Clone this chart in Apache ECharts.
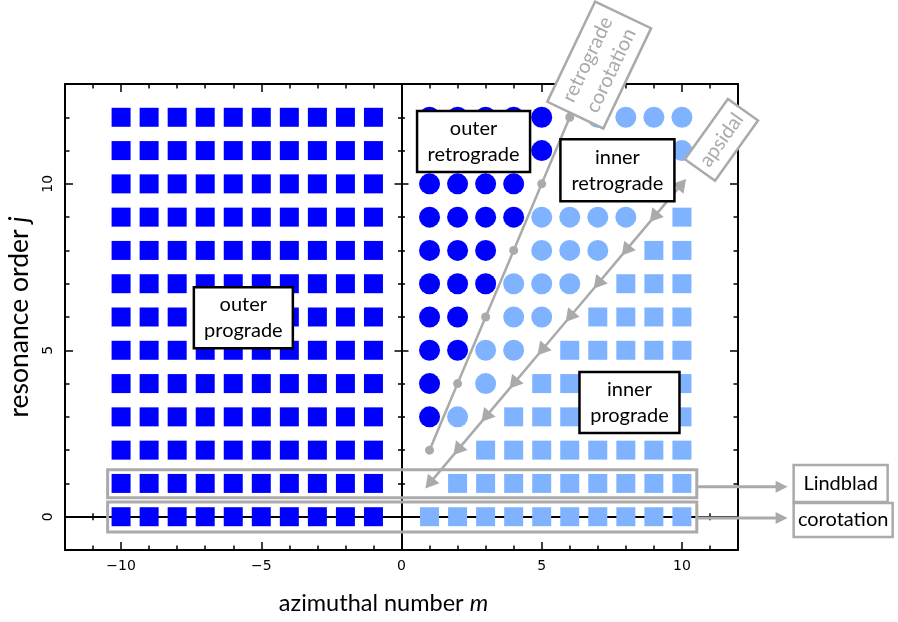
<!DOCTYPE html>
<html><head><meta charset="utf-8">
<script src="https://cdn.jsdelivr.net/npm/echarts@6/dist/echarts.min.js"></script>
<style>html,body{margin:0;padding:0;background:#fff}#c{width:898px;height:622px}</style>
</head><body><div id="c"></div>
<script>
// ---------------- data ----------------
const mNegative = [-10, -9, -8, -7, -6, -5, -4, -3, -2, -1];
const jOrders = [0, 1, 2, 3, 4, 5, 6, 7, 8, 9, 10, 11, 12];
// columns m > 0 : [m, [j values]]
const outerRetrogradeCols = [
  [1, [3, 4, 5, 6, 7, 8, 9, 10, 11, 12]],
  [2, [5, 6, 7, 8, 9, 10, 11, 12]],
  [3, [7, 8, 9, 10, 11, 12]],
  [4, [9, 10, 11, 12]],
  [5, [11, 12]]
];
const innerRetrogradeCols = [
  [2, [3]],
  [3, [4, 5]],
  [4, [5, 6, 7]],
  [5, [6, 7, 8, 9]],
  [6, [7, 8, 9, 10, 11]],
  [7, [8, 9, 10, 11, 12]],
  [8, [9, 10, 11, 12]],
  [9, [10, 11, 12]],
  [10, [11, 12]]
];
const innerProgradeCols = [
  [1, [0]],
  [2, [0, 1]],
  [3, [0, 1, 2]],
  [4, [0, 1, 2, 3]],
  [5, [0, 1, 2, 3, 4]],
  [6, [0, 1, 2, 3, 4, 5]],
  [7, [0, 1, 2, 3, 4, 5, 6]],
  [8, [0, 1, 2, 3, 4, 5, 6, 7]],
  [9, [0, 1, 2, 3, 4, 5, 6, 7, 8]],
  [10, [0, 1, 2, 3, 4, 5, 6, 7, 8, 9]]
];
const retrogradeCorotation = [[1, 2], [2, 4], [3, 6], [4, 8], [5, 10], [6, 12]];
const apsidal = [[1, 1], [2, 2], [3, 3], [4, 4], [5, 5], [6, 6], [7, 7], [8, 8], [9, 9], [10, 10]];
const xTickLabels = [-10, -5, 0, 5, 10];
const yTickLabels = [0, 5, 10];
const rowLindblad = 1;
const rowCorotation = 0;

// ---------------- styles ----------------
const DARK = '#0000ff';
const LIGHT = '#80b3ff';
const GREY = '#aaaaaa';
const TITLE_FONT = 'Lato';
const TICK_FONT = 'DejaVu Sans';

const pairs = cols => cols.flatMap(([m, js]) => js.map(j => [m, j]));
const outerPrograde = mNegative.flatMap(m => jOrders.map(j => [m, j]));
const tickFmt = v => (v < 0 ? '\u2212' + Math.abs(v) : String(v));

function mkAxis(dim, o) {
  const isX = dim === 'x';
  const a = {
    type: 'value', min: isX ? -12 : -1, max: isX ? 12 : 13, interval: 1,
    position: o.position,
    axisLine: { show: !!o.line, onZero: !!o.onZero, lineStyle: { color: '#000', width: 2 } },
    axisTick: { show: true, inside: o.inside, length: o.length, lineStyle: { color: '#000', width: 1.5 } },
    axisLabel: { show: false },
    splitLine: { show: false }
  };
  if (o.onZero) a.axisLine.onZeroAxisIndex = 0;
  if (o.custom) a.axisTick.customValues = o.custom;
  if (o.labels) {
    a.axisLabel = {
      show: true, customValues: o.labels, formatter: tickFmt,
      fontFamily: TICK_FONT, fontSize: 14, color: '#000',
      margin: o.margin, rotate: o.rotate || 0
    };
  }
  if (o.name) {
    a.name = o.name;
    a.nameLocation = 'middle';
    a.nameGap = o.nameGap;
    a.nameTextStyle = {
      fontFamily: TITLE_FONT, fontSize: o.nameSize, color: '#000', padding: o.namePad || 0,
      rich: { i: { fontFamily: TITLE_FONT, fontSize: o.nameSize, fontStyle: 'italic', color: '#000' } }
    };
  }
  return a;
}

const xAxes = [
  mkAxis('x', { position: 'bottom', line: true, inside: true, length: 4.5 }),
  mkAxis('x', { position: 'bottom', inside: true, length: 8, custom: xTickLabels, labels: xTickLabels, margin: 9,
                name: 'azimuthal number {i|m}', nameGap: 41, nameSize: 23.5, namePad: [0, 36, 0, 0] }),
  mkAxis('x', { position: 'top', line: true, inside: true, length: 4.5 }),
  mkAxis('x', { position: 'top', inside: true, length: 8, custom: xTickLabels }),
  mkAxis('x', { position: 'bottom', line: true, onZero: true, inside: true, length: 3.5 }),
  mkAxis('x', { position: 'bottom', onZero: true, inside: false, length: 3.5 }),
  mkAxis('x', { position: 'bottom', onZero: true, inside: true, length: 7, custom: xTickLabels }),
  mkAxis('x', { position: 'bottom', onZero: true, inside: false, length: 7, custom: xTickLabels })
];
const yAxes = [
  mkAxis('y', { position: 'left', line: true, inside: true, length: 4.5 }),
  mkAxis('y', { position: 'left', inside: true, length: 8, custom: yTickLabels, labels: yTickLabels, margin: 10, rotate: 90,
                name: 'resonance order {i|j}', nameGap: 27, nameSize: 26.5 }),
  mkAxis('y', { position: 'right', line: true, inside: true, length: 4.5 }),
  mkAxis('y', { position: 'right', inside: true, length: 8, custom: yTickLabels }),
  mkAxis('y', { position: 'left', line: true, onZero: true, inside: true, length: 3.5 }),
  mkAxis('y', { position: 'left', onZero: true, inside: false, length: 3.5 }),
  mkAxis('y', { position: 'left', onZero: true, inside: true, length: 7, custom: yTickLabels }),
  mkAxis('y', { position: 'left', onZero: true, inside: false, length: 7, custom: yTickLabels })
];

const option = {
  animation: false,
  backgroundColor: '#fff',
  grid: { left: 65, right: 160, top: 84, bottom: 72, containLabel: false, outerBoundsMode: 'none' },
  xAxis: xAxes,
  yAxis: yAxes,
  series: [
    {
      type: 'scatter', name: 'outer prograde', symbol: 'rect', symbolSize: 19,
      itemStyle: { color: DARK, opacity: 1 }, data: outerPrograde,
      markArea: {
        silent: true,
        itemStyle: { color: 'rgba(0,0,0,0)', borderColor: GREY, borderWidth: 3 },
        label: { show: false },
        data: [
          [{ coord: [-10.48, rowLindblad - 0.43] }, { coord: [10.53, rowLindblad + 0.41] }],
          [{ coord: [-10.48, rowCorotation - 0.46] }, { coord: [10.53, rowCorotation + 0.44] }]
        ]
      }
    },
    { type: 'scatter', name: 'inner prograde', symbol: 'rect', symbolSize: 19, itemStyle: { color: LIGHT, opacity: 1 }, data: pairs(innerProgradeCols) },
    { type: 'scatter', name: 'outer retrograde', symbol: 'circle', symbolSize: 21, itemStyle: { color: DARK, opacity: 1 }, data: pairs(outerRetrogradeCols) },
    { type: 'scatter', name: 'inner retrograde', symbol: 'circle', symbolSize: 21, itemStyle: { color: LIGHT, opacity: 1 }, data: pairs(innerRetrogradeCols) },
    {
      type: 'line', name: 'retrograde corotation', data: retrogradeCorotation,
      symbol: 'circle', symbolSize: 9, showSymbol: true, showAllSymbol: true,
      lineStyle: { color: GREY, width: 2.5 }, itemStyle: { color: GREY, opacity: 1 }, z: 4
    },
    {
      type: 'line', name: 'apsidal',
      data: apsidal.map((p, i) => ({ value: p, symbolRotate: i === apsidal.length - 1 ? -40 : 140 })),
      symbol: 'triangle', symbolSize: [15, 13], showSymbol: true, showAllSymbol: true,
      lineStyle: { color: GREY, width: 2.5 }, itemStyle: { color: GREY, opacity: 1 }, z: 4
    }
  ]
};

const chart = echarts.init(document.getElementById('c'), null, { renderer: 'canvas', width: 898, height: 622 });
chart.setOption(option);

// ---------------- annotations (anchored in data coordinates) ----------------
const px = p => chart.convertToPixel({ seriesIndex: 0 }, p);
const regionBoxes = [
  { text: 'outer\nretrograde', at: [2.57, 11.27], w: 113, h: 61 },
  { text: 'inner\nretrograde', at: [7.70, 10.41], w: 114, h: 62 },
  { text: 'outer\nprograde', at: [-5.64, 5.98], w: 99, h: 61 },
  { text: 'inner\nprograde', at: [8.13, 3.43], w: 100, h: 61 }
];
const lineBoxes = [
  { text: 'retrograde\ncorotation', at: [7.05, 13.57], w: 111, h: 62, angle: 64.5 },
  { text: 'apsidal', at: [11.41, 11.32], w: 74, h: 37, angle: 54.5 }
];
const rowBoxes = [
  { text: 'Lindblad', at: [15.66, 1.0], w: 94, h: 37, arrowY: 0.9 },
  { text: 'corotation', at: [15.75, -0.1], w: 99, h: 34, arrowY: -0.04 }
];
const arrowFrom = 10.53, arrowTo = 13.77;

function box(b, stroke, textColor, lw) {
  const c = px(b.at);
  return {
    type: 'group', x: c[0], y: c[1], rotation: (b.angle || 0) * Math.PI / 180, z: 100,
    children: [
      { type: 'rect', shape: { x: -b.w / 2, y: -b.h / 2, width: b.w, height: b.h },
        style: { fill: '#fff', stroke: stroke, lineWidth: lw }, z: 100 },
      { type: 'text', style: { text: b.text, x: 0, y: 0, align: 'center', verticalAlign: 'middle',
        font: '20px ' + TITLE_FONT, fill: textColor, lineHeight: 26 }, z: 101 }
    ]
  };
}
const graphics = [];
regionBoxes.forEach(b => graphics.push(box(b, '#000', '#000', 2.5)));
lineBoxes.forEach(b => graphics.push(box(b, GREY, GREY, 2.5)));
rowBoxes.forEach(b => {
  graphics.push(box(b, GREY, '#000', 2.5));
  const a = px([arrowFrom, b.arrowY]);
  const t = px([arrowTo, b.arrowY]);
  graphics.push({ type: 'line', shape: { x1: a[0], y1: a[1], x2: t[0] - 8, y2: t[1] },
    style: { stroke: GREY, lineWidth: 3 }, z: 90 });
  graphics.push({ type: 'polygon', shape: { points: [[t[0], t[1]], [t[0] - 12, t[1] - 6], [t[0] - 12, t[1] + 6]] },
    style: { fill: GREY }, z: 90 });
});
chart.setOption({ graphic: graphics });
</script>
</body></html>
